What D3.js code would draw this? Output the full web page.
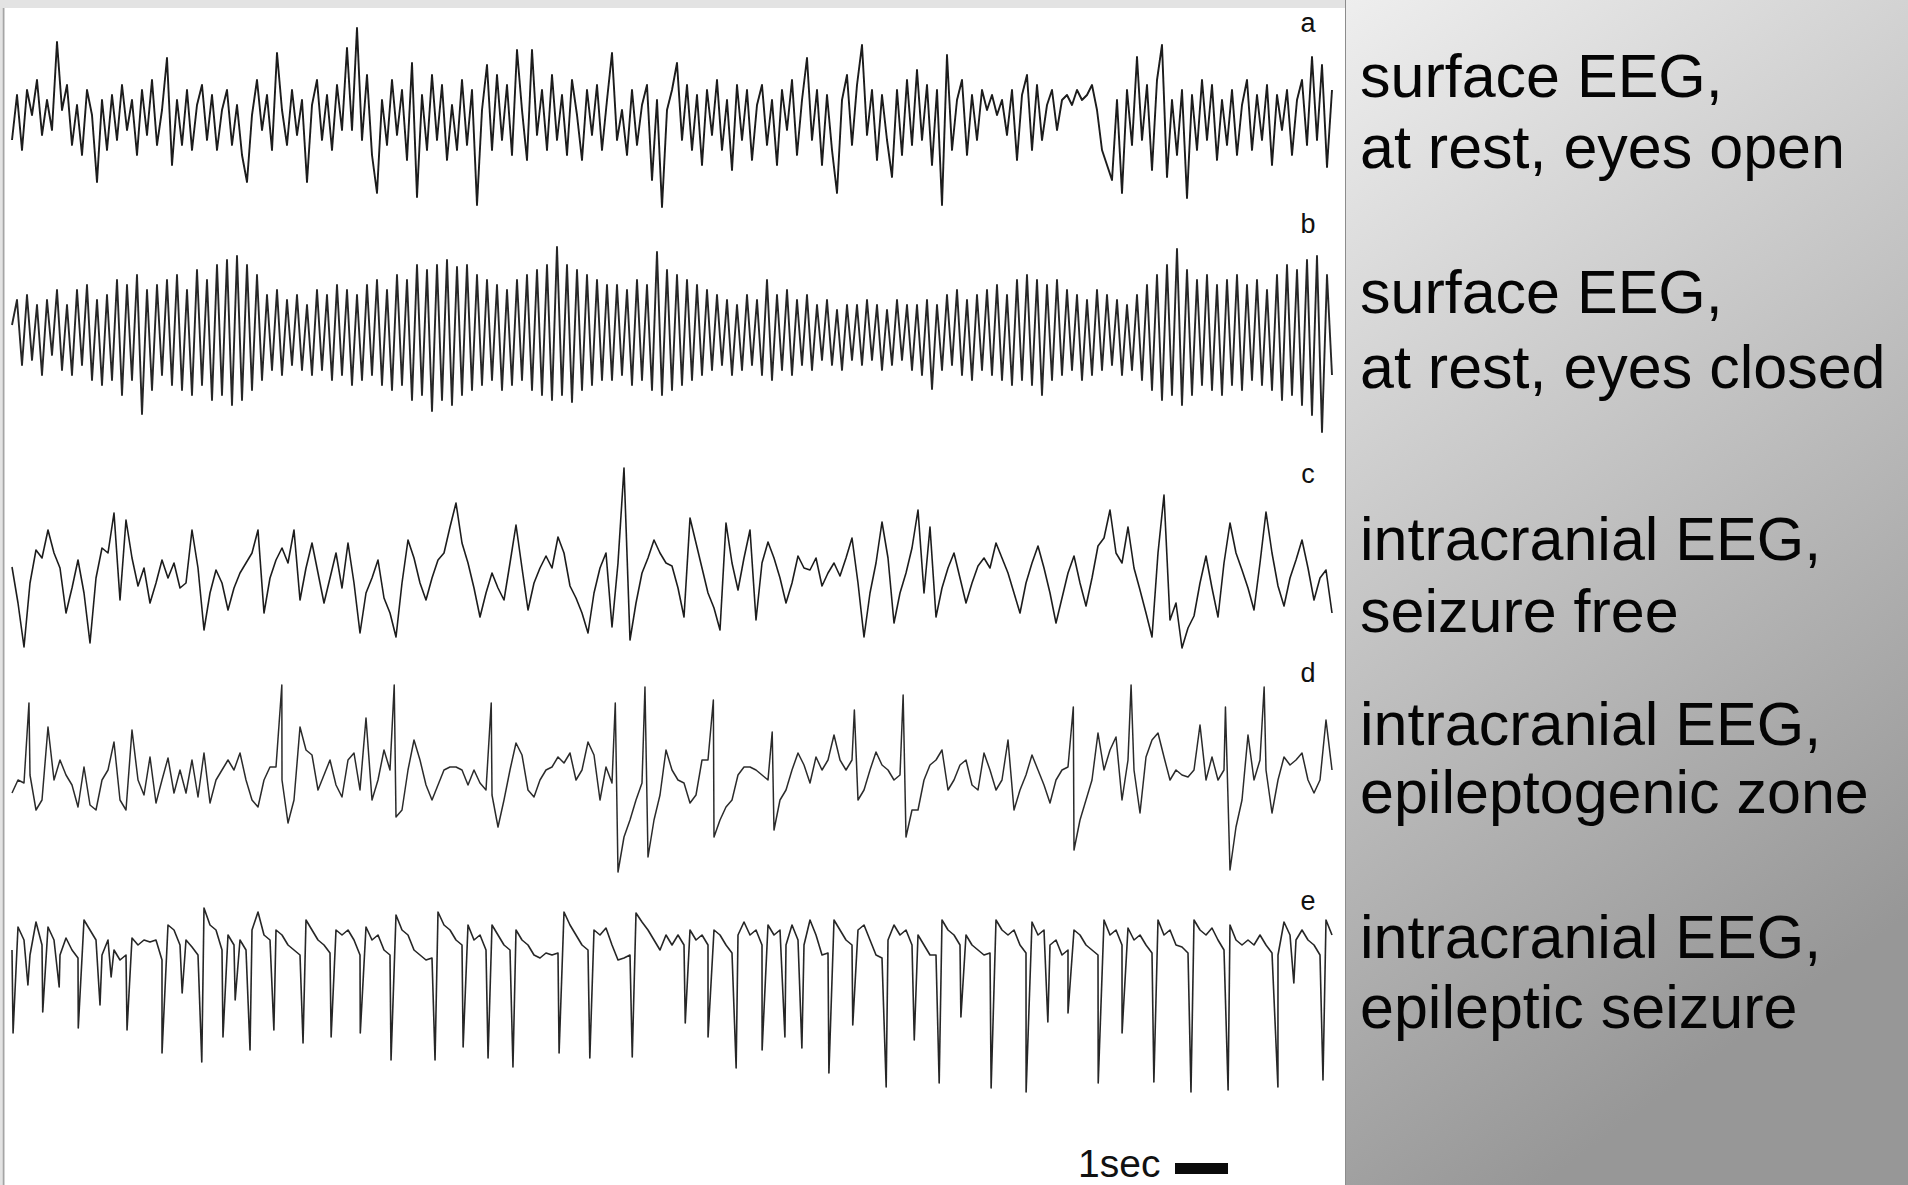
<!DOCTYPE html>
<html><head><meta charset="utf-8">
<script src="https://cdn.jsdelivr.net/npm/d3@7"></script>
<style>html,body{margin:0;padding:0;background:#fff;overflow:hidden}text{font-family:"Liberation Sans",Arial,sans-serif}</style>
</head><body><svg id="chart" width="1908" height="1185"></svg>
<script>
// ---- data ----
const DURATION = 24.9; // seconds of EEG shown in each trace
const traceLetters = ["a", "b", "c", "d", "e"];
const traceDescriptions = [
  ["surface EEG,", "at rest, eyes open"],
  ["surface EEG,", "at rest, eyes closed"],
  ["intracranial EEG,", "seizure free"],
  ["intracranial EEG,", "epileptogenic zone"],
  ["intracranial EEG,", "epileptic seizure"]
];
const scaleBarLabel = "1sec";
const scaleBarSeconds = 1;

// amplitude samples (arbitrary units, evenly spaced over DURATION)
const traceA = [
  -20, 25, -30, 30, 5, 40, -15, 20, -10, 78,
  10, 35, -25, 15, -35, 30, 5, -62, 20, -30,
  25, -20, 35, -10, 20, -35, 30, -15, 40, -25,
  10, 62, -45, 20, -25, 30, -30, 15, 35, -20,
  25, -30, 10, 30, -25, 15, -35, -62, 5, 40,
  -10, 25, -30, 67, 10, -25, 30, -15, 20, -62,
  15, 40, -20, 25, -30, 35, -10, 72, -10, 92,
  -20, 45, -35, -73, 20, -25, 40, -15, 30, -40,
  57, -77, 25, -30, 45, -20, 35, -40, 15, -30,
  40, -25, 30, -85, 10, 55, -30, 45, -20, 35,
  -35, 70, 10, -40, 70, -15, 30, -30, 45, -20,
  25, -35, 40, 5, -40, 30, -15, 35, -30, 20,
  67, -20, 10, -35, 30, -25, 15, 35, -60, 20,
  -87, 10, 30, 57, -20, 35, -30, 25, -45, 30,
  -15, 40, -30, 20, -50, 35, -20, 30, -40, 15,
  35, -25, 20, -45, 30, -10, 40, -35, 20, 62,
  -20, 30, -45, 25, -30, -73, 20, 45, -25, 35,
  75, -15, 30, -40, 25, -20, -57, 30, -35, 40,
  -25, 50, -20, 35, -45, 30, -85, 65, -30, 20,
  40, -35, 25, -20, 30, 10, 25, 5, 20, -15,
  30, -40, 25, 45, -30, 35, -20, 15, 30, -10,
  20, 25, 15, 30, 20, 25, 35, 10, -30, -45,
  -60, 20, -73, 30, -25, 63, -20, 35, -50, 40,
  75, -57, 20, -35, 30, -78, 25, -30, 40, -20,
  35, -40, 20, -25, 30, -35, 15, 40, -30, 25,
  -20, 35, -45, 25, -10, 30, -35, 20, 40, -25,
  63, -20, 55, -47, 30
];
const traceB = [
  10, 35, -30, 40, -25, 30, -40, 35, -20, 45,
  -35, 30, -40, 45, -30, 50, -45, 35, -50, 40,
  -45, 55, -60, 50, -45, 60, -79, 45, -55, 50,
  -40, 55, -50, 60, -55, 45, -60, 65, -50, 55,
  -65, 70, -60, 75, -70, 79, -65, 70, -55, 60,
  -45, 40, -35, 45, -40, 35, -30, 40, -35, 30,
  -40, 45, -35, 40, -45, 50, -40, 45, -50, 40,
  -45, 50, -40, 55, -50, 45, -55, 60, -50, 55,
  -65, 70, -60, 65, -76, 70, -65, 75, -70, 68,
  -60, 70, -55, 60, -50, 55, -45, 50, -55, 45,
  -50, 55, -45, 60, -55, 65, -60, 70, -65, 88,
  -60, 70, -67, 65, -55, 60, -50, 55, -45, 50,
  -45, 50, -40, 45, -50, 55, -45, 50, -55, 83,
  -60, 65, -55, 60, -50, 55, -45, 50, -40, 45,
  -35, 40, -30, 35, -40, 30, -35, 40, -30, 35,
  -40, 55, -45, 40, -35, 45, -40, 35, -30, 40,
  -35, 30, -25, 35, -30, 25, -35, 30, -25, 30,
  -30, 35, -25, 30, -35, 25, -30, 35, -25, 30,
  -35, 30, -40, 35, -54, 30, -35, 40, -30, 45,
  -40, 35, -45, 40, -35, 45, -40, 50, -45, 40,
  -50, 55, -45, 60, -50, 55, -60, 50, -45, 55,
  -40, 45, -35, 40, -45, 35, -40, 45, -35, 40,
  -30, 35, -40, 30, -35, 40, -45, 50, -55, 60,
  -65, 70, -60, 86, -70, 65, -60, 55, -50, 60,
  -55, 50, -60, 55, -50, 60, -55, 50, -45, 55,
  -50, 45, -55, 60, -65, 70, -60, 65, -70, 75,
  -80, 79, -97, 60, -40
];
const traceC = [
  6, -30, -74, -10, 23, 15, 43, 20, 5, -40,
  -15, 13, -20, -70, -5, 25, 20, 60, -27, 53,
  15, -13, 5, -30, -10, 13, -5, 10, -15, -10,
  43, 5, -57, -20, 3, -10, -37, -15, 0, 10,
  20, 43, -40, -5, 13, 25, 10, 43, -27, 5,
  30, 0, -30, -5, 20, -15, 30, -10, -60, -20,
  -5, 13, -25, -40, -64, -10, 33, 15, -10, -27,
  -5, 13, 20, 46, 70, 30, 10, -15, -44, -20,
  0, -15, -27, 10, 48, 5, -37, -10, 5, 17,
  5, 36, 20, -13, -25, -40, -60, -20, 5, 20,
  -54, 10, 105, -67, -30, 0, 15, 33, 20, 10,
  7, -15, -44, 55, 30, 5, -20, -35, -57, 50,
  10, -17, 15, 43, -47, 10, 31, 15, -5, -30,
  -10, 17, 5, 3, 15, -13, 0, 10, -3, 15,
  35, -10, -64, -20, 10, 51, 15, -50, -20, 0,
  25, 63, -20, 46, -44, -15, 5, 20, -5, -30,
  -10, 7, 15, 5, 30, 15, 0, -20, -40, -10,
  10, 27, 5, -20, -50, -25, 0, 17, -10, -33,
  -5, 27, 35, 63, 20, 10, 46, 5, -17, -40,
  -64, 20, 78, -47, -30, -75, -55, -43, -10, 17,
  -15, -44, 10, 50, 20, 3, -15, -37, 10, 61,
  20, -13, -33, -5, 13, 33, 5, -27, -5, 3,
  -40
];
const traceD = [
  -13, 0, -3, 5, -30, -20, 53, 0, 20, 5,
  -5, -27, 13, -25, -30, 0, 10, 38, -20, -30,
  50, 0, -15, 23, -23, 0, 22, -13, 10, -13,
  20, -17, 27, -23, 0, 10, 20, 10, 27, 0,
  -20, -27, 0, 13, 13, 0, -43, -20, 53, 30,
  25, -10, 5, 20, -5, -17, 20, 27, -10, 62,
  -20, 0, 30, 10, -37, -30, 10, 40, 20, -5,
  -20, -5, 10, 13, 13, 10, -5, 10, -3, -10,
  -15, -47, -20, 10, 37, 25, -10, -17, 0, 10,
  13, 23, 17, 27, 0, 10, 38, 25, -20, 13,
  -3, -92, -57, -40, -20, -3, -77, -40, -15, 30,
  10, 0, -3, -23, -15, 20, 20, -57, -40, -27,
  -20, 5, 13, 13, 10, 5, 0, -50, -20, -10,
  10, 27, 15, -3, 23, 10, 20, 45, 20, 10,
  20, -20, -10, 10, 28, 15, 10, 0, 5, -57,
  -30, -30, 0, 15, 20, 30, -10, 0, 15, 20,
  -5, -10, 27, 10, -10, 0, 40, -30, -10, 5,
  25, 10, -5, -23, 0, 10, 13, -70, -40, -20,
  0, 47, 10, 30, 43, -20, 20, 10, -33, 23,
  40, 47, 23, 0, 10, 5, 3, 10, 55, 0,
  23, 0, 10, -90, -47, -20, 45, 0, 20, 10,
  -33, 0, 23, 15, 20, 27, 0, -13, 0, 60,
  10
];
// sharp epileptiform spikes in trace d: time (s) and peak amplitude
const spikeTimesD = [0.32, 5.09, 7.21, 9.04, 11.38, 11.94, 13.23, 14.34, 15.89, 16.81, 20.02, 21.11, 22.89, 23.62];
const spikeValuesD = [77, 95, 95, 77, 77, 93, 80, 48, 70, 85, 73, 95, 73, 93];
const traceE = [
  0, 23, 10, -5, 28, 5, 23, 10, -5, 12,
  0, -8, 30, 20, 10, -5, 10, 0, -10, -5,
  12, 5, 10, 8, 10, -10, 25, 20, 5, 10,
  3, -5, 42, 25, 20, 0, 15, 5, 10, 0,
  20, 38, 15, 10, 20, 15, 5, 0, -5, 30,
  20, 10, 5, -3, 20, 15, 20, 10, -5, 23,
  10, 15, 0, -5, 35, 20, 15, 0, -5, -10,
  -8, 38, 25, 20, 10, 5, 25, 10, 15, 0,
  25, 15, 5, 0, 20, 10, 5, -5, -8, -3,
  -5, -3, 38, 25, 15, 5, 0, 20, 15, 22,
  5, -10, -8, -5, 37, 28, 20, 10, 0, 15,
  5, 15, 5, 20, 10, 15, 5, 20, 15, 5,
  -3, 15, 28, 15, 20, 5, 25, 15, 20, 5,
  25, 10, 5, 30, 15, -5, -3, 30, 20, 10,
  5, 20, 25, 10, -5, -8, 10, 25, 15, 20,
  5, 15, 5, -5, -5, 30, 20, 15, 5, 15,
  5, 0, -5, -3, 30, 20, 15, 20, 5, -3,
  28, 15, 20, 5, 10, -5, 0, 20, 15, 5,
  0, -5, 30, 15, 20, 5, 22, 10, 15, 5,
  -3, 30, 15, 20, 5, 3, -3, 30, 20, 15,
  22, 10, 0, 25, 10, 5, 10, 5, 15, 5,
  -3, -5, 28, 15, 10, 20, 10, 5, -5, 30,
  15
];
// sharp negative spikes during the seizure (trace e)
const spikeTimesE = [0.02, 0.30, 0.58, 0.89, 1.25, 1.66, 1.87, 2.17, 2.83, 3.21, 3.58, 3.98, 4.21, 4.49, 4.94,
  5.49, 6.02, 6.57, 7.15, 7.98, 8.51, 8.98, 9.45, 10.32, 10.90, 11.70, 12.70, 13.13, 13.66, 14.15, 14.58,
  14.90, 15.41, 15.86, 16.49, 17.02, 17.49, 17.90, 18.47, 19.13, 19.54, 19.92, 20.49, 20.94, 21.54, 22.24,
  22.94, 23.88, 24.18, 24.73];
const spikeValuesE = [-83, -35, -62, -37, -78, -55, -27, -80, -103, -43, -112, -87, -50, -100, -80,
  -93, -87, -83, -110, -110, -97, -108, -117, -103, -108, -107, -73, -87, -118, -100, -87,
  -98, -123, -75, -137, -90, -133, -67, -138, -142, -72, -63, -133, -83, -132, -142,
  -140, -137, -33, -130];

// ---- drawing ----
const W = 1908, H = 1185;
const svg = d3.select("#chart");
const defs = svg.append("defs");
const grad = defs.append("linearGradient").attr("id", "sideGrad")
  .attr("x1", 0).attr("y1", 0).attr("x2", 0.35).attr("y2", 1);
grad.append("stop").attr("offset", 0).attr("stop-color", "#eeeeee");
grad.append("stop").attr("offset", 1).attr("stop-color", "#979797");
defs.append("filter").attr("id", "soft").attr("x", "-1%").attr("y", "-5%").attr("width", "102%").attr("height", "110%")
  .append("feGaussianBlur").attr("stdDeviation", 0.45);

svg.append("rect").attr("width", W).attr("height", H).attr("fill", "#e3e3e3");
svg.append("rect").attr("x", 5).attr("y", 8).attr("width", 1340).attr("height", H - 8).attr("fill", "#ffffff");
svg.append("line").attr("x1", 3.5).attr("x2", 3.5).attr("y1", 8).attr("y2", H).attr("stroke", "#a5a5a5").attr("stroke-width", 1.5);
svg.append("rect").attr("x", 1345).attr("y", 0).attr("width", W - 1345).attr("height", H).attr("fill", "url(#sideGrad)");
svg.append("line").attr("x1", 1345.5).attr("x2", 1345.5).attr("y1", 0).attr("y2", H).attr("stroke", "#8c8c8c").attr("stroke-width", 1);

const x = d3.scaleLinear().domain([0, DURATION]).range([12, 1332]);

const traces = [
  { values: traceA, spikesT: [], spikesV: [], base: 120, color: "#1a1a1a", width: 1.9 },
  { values: traceB, spikesT: [], spikesV: [], base: 335, color: "#262626", width: 1.9 },
  { values: traceC, spikesT: [], spikesV: [], base: 573, color: "#1e1e1e", width: 1.6 },
  { values: traceD, spikesT: spikeTimesD, spikesV: spikeValuesD, base: 780, color: "#2c2c2c", width: 1.5 },
  { values: traceE, spikesT: spikeTimesE, spikesV: spikeValuesE, base: 950, color: "#262626", width: 1.6 }
];
const labelBaselines = [[97, 168], [313, 388], [560, 632], [745, 813], [958, 1028]];
const letterBaselines = [32, 233, 483, 682, 910];

traces.forEach((tr, k) => {
  const n = tr.values.length;
  const pts = tr.values.map((v, i) => ({ t: i / (n - 1) * DURATION, v }));
  tr.spikesT.forEach((t, j) => pts.push({ t, v: tr.spikesV[j] }));
  pts.sort((p, q) => p.t - q.t);
  const y = d3.scaleLinear().domain([-150, 150]).range([tr.base + 150, tr.base - 150]);
  const line = d3.line().x(d => x(d.t)).y(d => y(d.v));
  svg.append("path").datum(pts).attr("d", line)
    .attr("fill", "none").attr("stroke", tr.color).attr("stroke-width", tr.width)
    .attr("stroke-linejoin", "round").attr("filter", "url(#soft)");
  svg.append("text").attr("x", 1308).attr("y", letterBaselines[k]).attr("text-anchor", "middle")
    .attr("font-size", 27).attr("fill", "#111").text(traceLetters[k]);
  const tx = svg.append("text").attr("font-size", 61).attr("fill", "#050505");
  traceDescriptions[k].forEach((s, j) => {
    tx.append("tspan").attr("x", 1360).attr("y", labelBaselines[k][j]).text(s);
  });
});

// scale bar
svg.append("text").attr("x", 1078).attr("y", 1177).attr("font-size", 39).attr("fill", "#111").text(scaleBarLabel);
const barT0 = x.invert(1175);
svg.append("rect").attr("x", x(barT0)).attr("y", 1163)
  .attr("width", x(barT0 + scaleBarSeconds) - x(barT0)).attr("height", 11).attr("fill", "#0a0a0a");
</script>
</body></html>
